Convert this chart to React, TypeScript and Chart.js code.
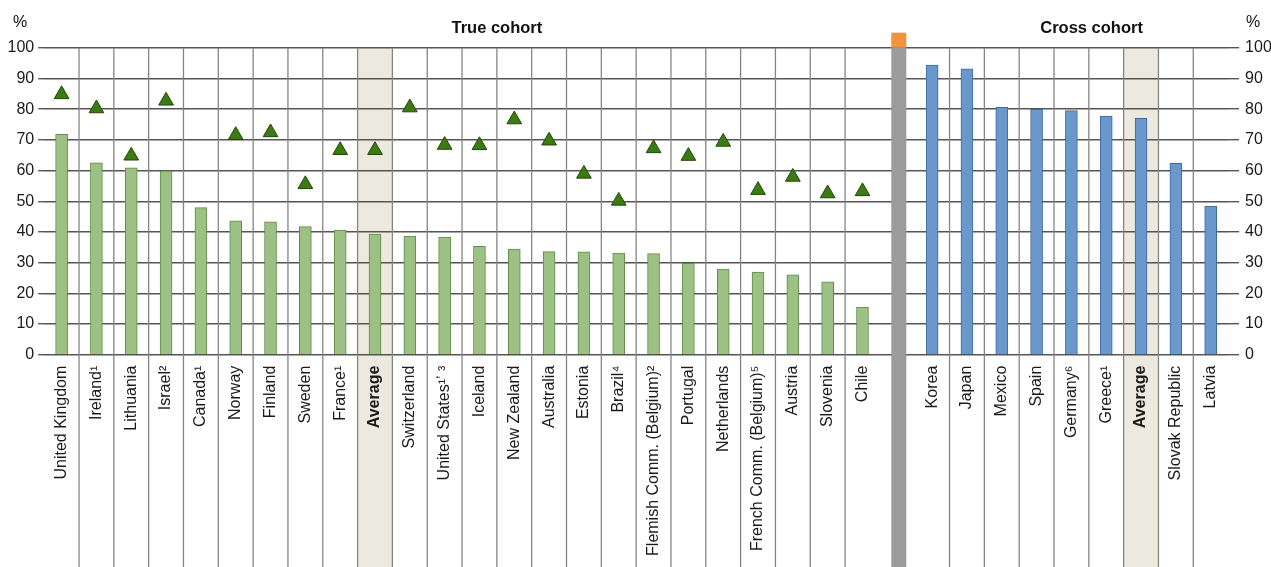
import React, { useEffect, useRef } from "react";
import { Chart, registerables } from "chart.js";

Chart.register(...registerables);

// ---------- data ----------
const trueCohortLabels = [
  "United Kingdom", "Ireland¹", "Lithuania", "Israel²", "Canada¹", "Norway", "Finland", "Sweden", "France¹",
  "Average", "Switzerland", "United States¹ʼ ³", "Iceland", "New Zealand", "Australia", "Estonia", "Brazil⁴",
  "Flemish Comm. (Belgium)²", "Portugal", "Netherlands", "French Comm. (Belgium)⁵", "Austria", "Slovenia", "Chile",
];
const trueCohortBars = [
  71.8, 62.5, 60.9, 59.9, 47.9, 43.6, 43.3, 41.7, 40.6, 39.3, 38.6, 38.3, 35.3, 34.4, 33.6, 33.5, 33.1, 32.9,
  29.8, 27.9, 26.9, 26.0, 23.7, 15.5,
];
const trueCohortTriangles = [
  84.8, 80.2, 64.8, 82.7, null, 71.5, 72.4, 55.5, 66.6, 66.6, 80.5, 68.3, 68.2, 76.6, 69.7, 58.9, 50.1, 67.2,
  64.7, 69.3, 53.6, 57.9, 52.5, 53.2,
];
const separatorLabel = [""];
const crossCohortLabels = [
  "Korea", "Japan", "Mexico", "Spain", "Germany⁶", "Greece¹", "Average", "Slovak Republic", "Latvia",
];
const crossCohortBars = [94.3, 93.1, 80.6, 79.9, 79.5, 77.7, 77.0, 62.3, 48.4];
const yTicks = [0, 10, 20, 30, 40, 50, 60, 70, 80, 90, 100];
const sectionTitles = ["True cohort", "Cross cohort"];

const allLabels = [...trueCohortLabels, ...separatorLabel, ...crossCohortLabels];
const nTrue = trueCohortLabels.length;
const sepIndex = nTrue;
const nCross = crossCohortLabels.length;

const FONT = "'Liberation Sans', Arial, sans-serif";

const decorPlugin = {
  id: "decor",
  beforeDraw(chart: any) {
    const { ctx, chartArea, scales } = chart;
    const x = scales.x;
    const H = chart.height;
    const w = x.getPixelForValue(1) - x.getPixelForValue(0);
    ctx.save();
    ctx.fillStyle = "#ECEADF";
    allLabels.forEach((l, i) => {
      if (l === "Average") {
        const c = x.getPixelForValue(i);
        ctx.fillRect(c - w / 2, chartArea.top, w, H - chartArea.top);
      }
    });
    ctx.restore();
  },
  beforeDatasetsDraw(chart: any) {
    const { ctx, chartArea, scales } = chart;
    const x = scales.x;
    const H = chart.height;
    ctx.save();
    ctx.strokeStyle = "#858585";
    ctx.lineWidth = 1.3;
    for (let i = 1; i < allLabels.length; i++) {
      if (i === sepIndex || i === sepIndex + 1) continue;
      const px = (x.getPixelForValue(i - 1) + x.getPixelForValue(i)) / 2;
      ctx.beginPath();
      ctx.moveTo(px, chartArea.top);
      ctx.lineTo(px, H);
      ctx.stroke();
    }
    ctx.restore();
  },
  afterDatasetsDraw(chart: any) {
    const { ctx, chartArea, scales } = chart;
    const x = scales.x;
    const H = chart.height;
    const c = x.getPixelForValue(sepIndex) + 1.5;
    const bw = 15;
    ctx.save();
    ctx.fillStyle = "#9B9B9B";
    ctx.fillRect(c - bw / 2, chartArea.top, bw, H - chartArea.top);
    ctx.fillStyle = "#F0933D";
    ctx.fillRect(c - bw / 2, chartArea.top - 15, bw, 15);

    ctx.fillStyle = "#111";
    ctx.textAlign = "center";
    ctx.textBaseline = "middle";
    ctx.font = `bold 16.5px ${FONT}`;
    ctx.fillText(sectionTitles[0], x.getPixelForValue(12.5), 28);
    ctx.fillText(sectionTitles[1], x.getPixelForValue(29.58), 28);
    ctx.font = `16px ${FONT}`;
    ctx.fillText("%", 20, 23);
    ctx.fillText("%", 1253, 23);
    ctx.restore();
  },
};

export default function App() {
  const ref = useRef<HTMLCanvasElement | null>(null);
  useEffect(() => {
    if (!ref.current) return;
    const pad = (n: number) => Array(n).fill(null);
    const chart = new Chart(ref.current, {
      type: "bar",
      data: {
        labels: allLabels,
        datasets: [
          {
            type: "line" as any,
            label: "triangles",
            data: [...trueCohortTriangles, ...pad(1 + nCross)],
            showLine: false,
            pointStyle: "triangle",
            pointRadius: 8.5,
            pointBackgroundColor: "#3C7A12",
            pointBorderColor: "#23470A",
            pointBorderWidth: 1,
            order: 0,
          } as any,
          {
            label: "true",
            data: [...trueCohortBars, ...pad(1 + nCross)],
            backgroundColor: "#9DC185",
            borderColor: "#5E8C48",
            borderWidth: 1,
            barThickness: 12,
            grouped: false,
            order: 1,
          } as any,
          {
            label: "cross",
            data: [...pad(nTrue + 1), ...crossCohortBars],
            backgroundColor: "#6A98CD",
            borderColor: "#3E6A9C",
            borderWidth: 1,
            barThickness: 12,
            grouped: false,
            order: 1,
          } as any,
        ],
      },
      options: {
        animation: false,
        responsive: false,
        layout: { padding: { top: 47.7, left: 0, right: 0, bottom: 0 } },
        plugins: { legend: { display: false }, tooltip: { enabled: false } },
        scales: {
          x: {
            type: "category",
            offset: true,
            grid: { display: false, drawTicks: false },
            border: { display: false },
            ticks: {
              autoSkip: false,
              minRotation: 90,
              maxRotation: 90,
              padding: 11,
              color: "#1a1a1a",
              font: (ctx: any) => ({
                family: FONT,
                size: 16,
                weight: allLabels[ctx.index] === "Average" ? "bold" : "normal",
              }),
            },
            afterFit: (s: any) => {
              s.height = 212.3;
            },
          },
          y: {
            position: "left",
            min: 0,
            max: 100,
            afterBuildTicks: (s: any) => {
              s.ticks = yTicks.map((v) => ({ value: v }));
            },
            grid: { color: "#555", lineWidth: 1.4, tickLength: 6, drawTicks: true },
            border: { display: false },
            ticks: { color: "#1a1a1a", padding: 4, font: { family: FONT, size: 16 } },
            afterFit: (s: any) => {
              s.width = 44.2;
            },
          },
          y2: {
            position: "right",
            min: 0,
            max: 100,
            afterBuildTicks: (s: any) => {
              s.ticks = yTicks.map((v) => ({ value: v }));
            },
            grid: { color: "#555", lineWidth: 1.4, tickLength: 11, drawOnChartArea: false, drawTicks: true },
            border: { display: false },
            ticks: { color: "#1a1a1a", padding: 6, font: { family: FONT, size: 16 } },
            afterFit: (s: any) => {
              s.width = 42.9;
            },
          },
        },
      },
      plugins: [decorPlugin],
    });
    return () => chart.destroy();
  }, []);
  return (
    <div style={{ position: "absolute", left: 0, top: 0, width: 1271, height: 567, background: "#fff" }}>
      <canvas ref={ref} width={1271} height={567} style={{ display: "block" }} />
    </div>
  );
}
